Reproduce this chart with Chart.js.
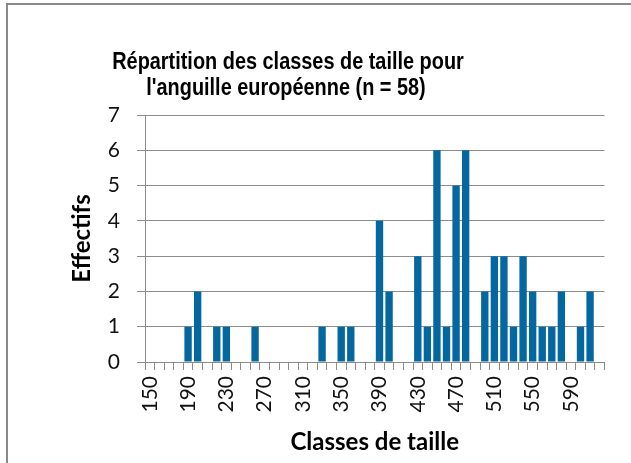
<!DOCTYPE html>
<html>
<head>
<meta charset="utf-8">
<script src="https://cdn.jsdelivr.net/npm/chart.js@4.4.0/dist/chart.umd.min.js"></script>
<style>
html,body{margin:0;padding:0;background:#fff;}
#wrap{position:relative;width:631px;height:463px;}
</style>
</head>
<body>
<div id="wrap"><canvas id="c" width="631" height="463"></canvas></div>
<script>
// Data
const classes = [150,160,170,180,190,200,210,220,230,240,250,260,270,280,290,300,310,320,330,340,350,360,370,380,390,400,410,420,430,440,450,460,470,480,490,500,510,520,530,540,550,560,570,580,590,600,610,620];
const effectifs = [0,0,0,0,1,2,0,1,1,0,0,1,0,0,0,0,0,0,1,0,1,1,0,0,4,2,0,0,3,1,6,1,5,6,0,2,3,3,1,3,2,1,1,2,0,1,2,0];
const yTicks = [0,1,2,3,4,5,6,7];
const titleLines = ["Répartition des classes de taille pour", "l'anguille européenne (n = 58)"];
const xTitle = "Classes de taille";
const yTitle = "Effectifs";

const GRID = '#8c8c8c';
const BAR = '#0467a0';

const framePlugin = {
  id: 'frame',
  beforeDraw(chart) {
    const ctx = chart.ctx;
    ctx.save();
    ctx.fillStyle = '#fff';
    ctx.fillRect(0, 0, chart.width, chart.height);
    ctx.strokeStyle = '#8a8a8a';
    ctx.lineWidth = 2;
    ctx.beginPath();
    ctx.moveTo(7, chart.height + 5);
    ctx.lineTo(7, 4);
    ctx.lineTo(chart.width + 5, 4);
    ctx.stroke();
    ctx.restore();
  }
};

const titlePlugin = {
  id: 'customTitle',
  afterDraw(chart) {
    const ctx = chart.ctx;
    const sx = 0.865;
    ctx.save();
    ctx.fillStyle = '#000';
    ctx.font = 'bold 23px "Liberation Sans", Arial, sans-serif';
    ctx.textAlign = 'center';
    ctx.textBaseline = 'alphabetic';
    ctx.scale(sx, 1);
    ctx.fillText(titleLines[0], 288 / sx, 69);
    ctx.fillText(titleLines[1], 286 / sx, 95);
    ctx.restore();
  }
};

new Chart(document.getElementById('c'), {
  type: 'bar',
  data: {
    labels: classes.map(String),
    datasets: [{
      data: effectifs,
      backgroundColor: BAR,
      borderWidth: 0,
      barPercentage: 0.77,
      categoryPercentage: 1.0
    }]
  },
  options: {
    responsive: false,
    animation: false,
    devicePixelRatio: 1,
    layout: { padding: { left: 8, top: 115, right: 14, bottom: 0 } },
    plugins: { legend: { display: false }, tooltip: { enabled: false }, title: { display: false } },
    scales: {
      x: {
        grid: { display: true, drawOnChartArea: false, drawTicks: true, tickLength: 8, color: GRID, offset: true },
        border: { display: true, color: GRID, width: 1 },
        ticks: {
          autoSkip: false, minRotation: 90, maxRotation: 90, padding: 6,
          color: '#111',
          font: { family: 'Lato', size: 21 },
          callback: function(v, i) { return i % 4 === 0 ? classes[i] : ''; }
        },
        title: { display: true, text: xTitle, color: '#000', font: { family: 'Lato', size: 24, weight: 'bold' }, padding: { top: 0, bottom: 6 } },
        afterFit(scale) { scale.height = 101; }
      },
      y: {
        min: 0, max: 7,
        grid: { color: GRID, tickLength: 8, drawTicks: true },
        border: { display: true, color: GRID, width: 1 },
        afterBuildTicks(scale) { scale.ticks = yTicks.map(v => ({ value: v })); },
        ticks: { padding: 17, color: '#111', font: { family: 'Lato', size: 21 } },
        title: { display: true, text: yTitle, color: '#000', font: { family: 'Lato', size: 24, weight: 'bold' }, padding: { top: 60, bottom: 0 } },
        afterFit(scale) { scale.width = 137; }
      }
    }
  },
  plugins: [framePlugin, titlePlugin]
});
</script>
</body>
</html>
